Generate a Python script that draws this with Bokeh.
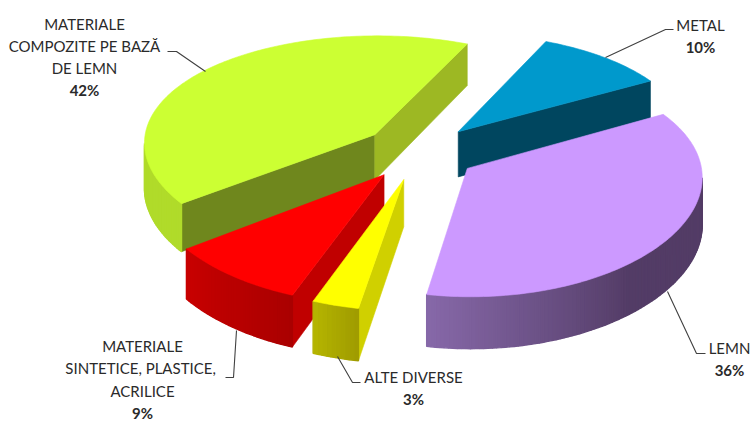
import math
from bokeh.plotting import figure
from bokeh.models import Range1d
from bokeh.core.properties import value
from bokeh.embed import file_html
from bokeh.resources import INLINE

categories = ["METAL", "LEMN", "ALTE DIVERSE", "MATERIALE\nSINTETICE,  PLASTICE,\nACRILICE", "MATERIALE\nCOMPOZITE PE BAZĂ\nDE LEMN"]
percent = [10, 36, 3, 9, 42]

top_colors = ["#0099CC", "#CC99FF", "#FFFF00", "#FF0000", "#CCFF33"]
start_face = ["#00465F", "#533C66", "#D0D000", "#C00000", "#6F871D"]
end_face = ["#00465F", "#533C66", "#D0D000", "#C00000", "#9DB823"]
wall_from = ["#00465F", "#8668A8", "#B4B400", "#C80000", "#B0DB2A"]
wall_to = ["#00465F", "#533C66", "#A09C00", "#AA0000", "#B0DB2A"]
wall_speed = [1.0, 1.9, 1.0, 1.0, 1.0]
draw_order = [0, 4, 3, 2, 1]

# camera model
CX, CY, A, B, H, KX, KY = 419, 151.5, 232, 112, 46, 0.065, 0.10
EXPLODE, THETA0 = 0.25, 24.5

def project(X, Y, Z):
    return CX + A * X / (1 + KX * Y), CY - (B * Y + H * Z) / (1 + KY * Y)

def mix(c1, c2, t):
    a = [int(c1[i:i + 2], 16) for i in (1, 3, 5)]
    b = [int(c2[i:i + 2], 16) for i in (1, 3, 5)]
    return "#%02X%02X%02X" % tuple(round(x + (y - x) * t) for x, y in zip(a, b))

def area(poly):
    return sum(poly[i][0] * poly[(i + 1) % len(poly)][1] - poly[(i + 1) % len(poly)][0] * poly[i][1] for i in range(len(poly))) / 2

p = figure(width=753, height=421, x_range=Range1d(0, 753), y_range=Range1d(421, 0),
           output_backend="svg", toolbar_location=None, min_border=0,
           background_fill_color="white", border_fill_color="white", outline_line_color=None)
p.axis.visible = False
p.grid.visible = False

def fill(poly, color, lw=0.6):
    p.patch([q[0] for q in poly], [q[1] for q in poly], fill_color=color, line_color=color, line_width=lw)

total = sum(percent)
starts = []
acc = 0.0
for v in percent:
    starts.append(THETA0 + acc)
    acc += 360.0 * v / total

for i in draw_order:
    a0 = starts[i]
    sweep = 360.0 * percent[i] / total
    mid = math.radians(a0 + sweep / 2)
    ox, oy = EXPLODE * math.sin(mid), EXPLODE * math.cos(mid)
    n = max(8, int(sweep))
    rim = []
    for j in range(n + 1):
        t = math.radians(a0 + sweep * j / n)
        rim.append((ox + math.sin(t), oy + math.cos(t)))
    apex = (ox, oy)
    f1 = [project(*apex, 0), project(*rim[0], 0), project(*rim[0], -1), project(*apex, -1)]
    f2 = [project(*apex, 0), project(*rim[-1], 0), project(*rim[-1], -1), project(*apex, -1)]
    if area(f1) < 0:
        fill(f1, start_face[i])
    if area(f2) > 0:
        fill(f2, end_face[i])
    strips = []
    for j in range(n):
        q = [project(*rim[j], 0), project(*rim[j + 1], 0), project(*rim[j + 1], -1), project(*rim[j], -1)]
        if area(q) < 0:
            strips.append(q)
    for s, q in enumerate(strips):
        t = s / max(1, len(strips) - 1)
        # the gradient runs left to right across the page
        if q[0][0] > q[1][0]:
            t = 1 - t
        fill(q, mix(wall_from[i], wall_to[i], min(1, t * wall_speed[i])), lw=1.4)
    fill([project(*apex, 0)] + [project(*r, 0) for r in rim], top_colors[i])

leaders = {
    0: ([673, 665, 605], [29, 29, 57]),
    1: ([705, 696, 667], [353, 353, 291]),
    2: ([360, 352, 337], [382, 382, 356]),
    3: ([225, 233, 236], [377, 377, 330]),
    4: ([167, 176, 205], [51, 51, 71]),
}
anchors = {0: (700, 24), 1: (729, 347), 2: (413, 376), 3: (142, 345.5), 4: (84, 23)}
for i, (lx, ly) in leaders.items():
    p.line(lx, ly, line_color="#404040", line_width=1.1)

FONT = value("Lato")
SIZE = "15px"
STEP = 22.3
for i, name in enumerate(categories):
    ax, ay = anchors[i]
    lines = name.split("\n")
    for k, line in enumerate(lines):
        p.text([ax], [ay + k * STEP], text=[line], text_align="center", text_baseline="middle",
               text_font=FONT, text_font_size=SIZE, text_color="#2A2A2A")
    p.text([ax], [ay + len(lines) * STEP], text=[f"{percent[i]}%"], text_align="center", text_baseline="middle",
           text_font=FONT, text_font_size=SIZE, text_font_style="bold", text_color="#2A2A2A")

open("out.html", "w").write(file_html(p, INLINE))
